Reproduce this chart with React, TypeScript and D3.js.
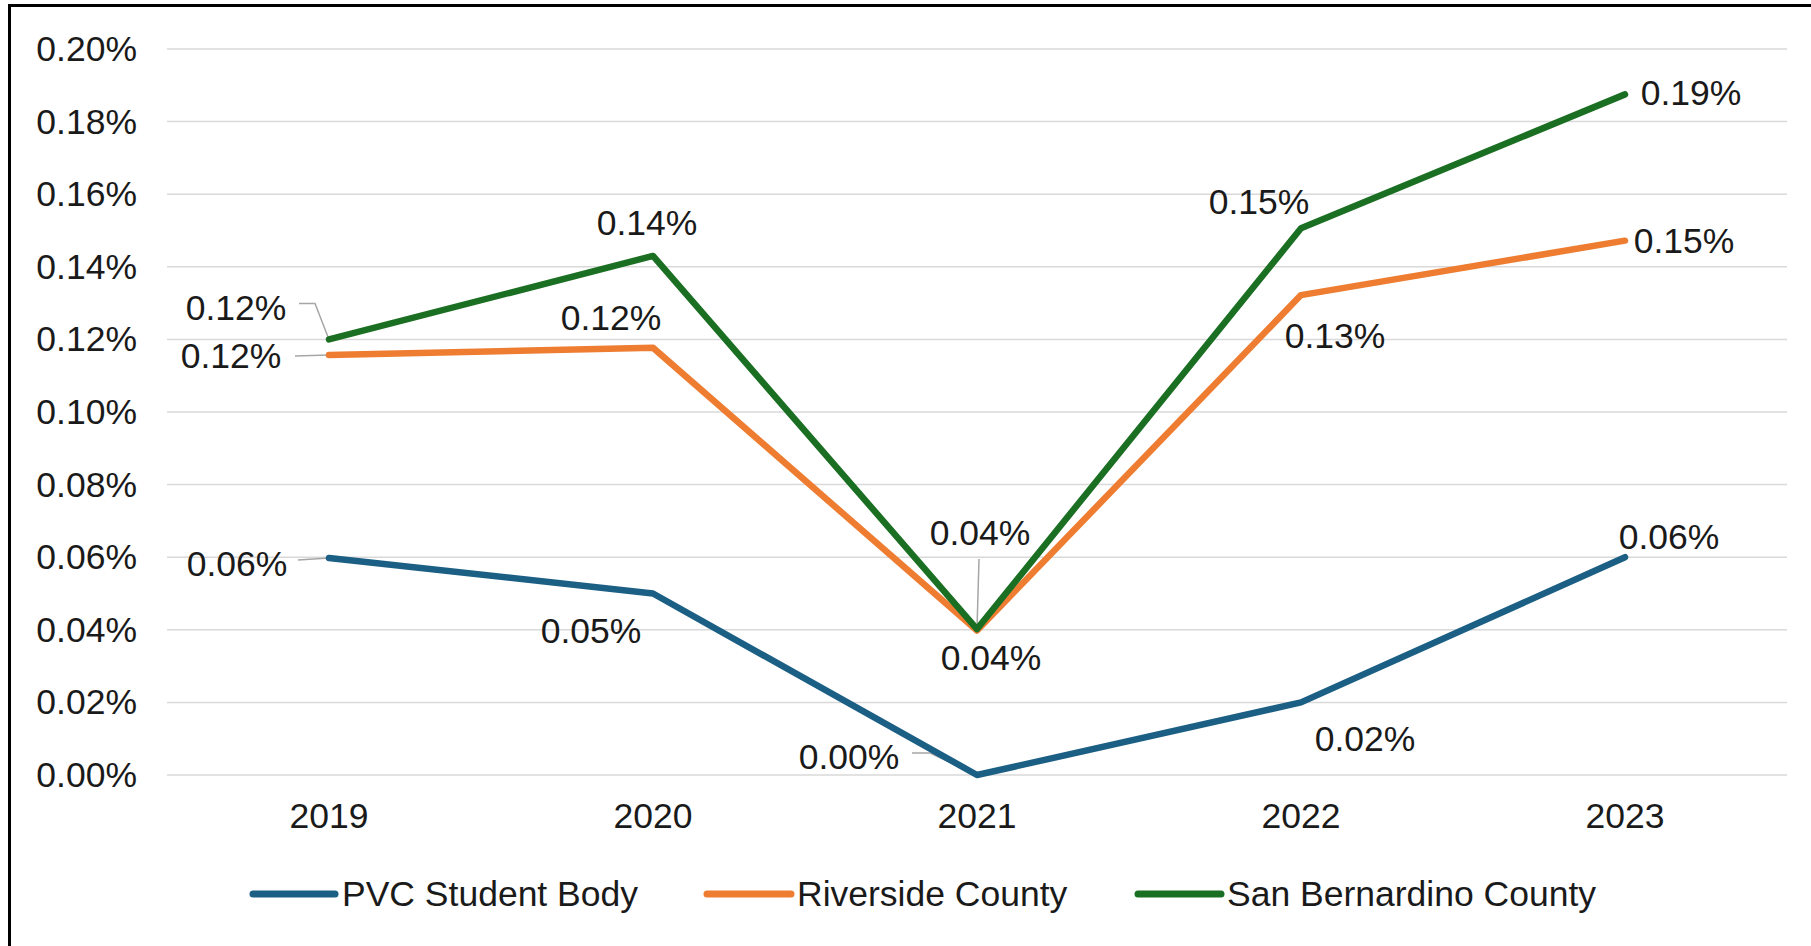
import React from "react";
import * as d3 from "d3";

const years = ["2019", "2020", "2021", "2022", "2023"];
const pvcValues = [0.0598, 0.05, 0.0, 0.02, 0.06];
const riversideValues = [0.1157, 0.1177, 0.0398, 0.1322, 0.1472];
const sanBernardinoValues = [0.12, 0.143, 0.0402, 0.1506, 0.1875];
const seriesNames = ["PVC Student Body", "Riverside County", "San Bernardino County"];
const yTicks = [0, 0.02, 0.04, 0.06, 0.08, 0.1, 0.12, 0.14, 0.16, 0.18, 0.2];

// label placement offsets (dx, dy) from each data point
const pvcLabelOffsets = [[-92, 6], [-62, 37], [-128, -18], [64, 37], [44, -20]];
const riversideLabelOffsets = [[-98, 1], [-42, -30], [14, 27], [34, 41], [59, 0]];
const sbLabelOffsets = [[-93, -31], [-6, -33], [3, -96], [-42, -26], [66, -1]];

// leader lines: [seriesIndex, pointIndex, dx start, dy start, dx knee, dy knee]
const leaders = [
  [0, 0, -31, 2, -31, 2],
  [1, 0, -34, 1, -34, 1],
  [2, 0, -30, -36, -14, -36],
  [2, 2, 2, -70, 2, -70],
  [0, 2, -65, -22, -47, -22],
];

const colors = ["#1b5f84", "#ee7d32", "#1b6f22"];

export default function App() {
  const W = 1811;
  const H = 946;
  const left = 167;
  const right = 1787;
  const top = 49;
  const bottom = 775;

  const x = d3.scaleBand<string>().domain(years).range([left, right]);
  const cx = (y: string) => (x(y) as number) + x.bandwidth() / 2;
  const y = d3.scaleLinear().domain([0, 0.2]).range([bottom, top]);
  const fmt = (v: number) => v.toFixed(2) + "%";

  const series = [
    { name: seriesNames[0], values: pvcValues, offs: pvcLabelOffsets, color: colors[0] },
    { name: seriesNames[1], values: riversideValues, offs: riversideLabelOffsets, color: colors[1] },
    { name: seriesNames[2], values: sanBernardinoValues, offs: sbLabelOffsets, color: colors[2] },
  ];

  const line = d3
    .line<number>()
    .x((_, i) => cx(years[i]))
    .y((d) => y(d));

  const font = "'Liberation Sans', Arial, sans-serif";
  const fs = 35.5;
  const textColor = "#1a1a1a";

  const legendItems = [
    { x1: 253, x2: 335, tx: 342 },
    { x1: 707, x2: 791, tx: 797 },
    { x1: 1138, x2: 1221, tx: 1227 },
  ];

  return (
    <svg
      width={W}
      height={H}
      style={{ position: "absolute", left: 0, top: 0, background: "#fff" }}
      fontFamily={font}
    >
      <rect x={0} y={0} width={W} height={H} fill="#fff" />
      <rect x={9.5} y={5.5} width={W + 20} height={H + 20} fill="none" stroke="#000" strokeWidth={3} />
      {yTicks.map((t) => (
        <g key={t}>
          <line x1={left} x2={right} y1={y(t)} y2={y(t)} stroke="#d9d9d9" strokeWidth={1.5} />
          <text
            x={137}
            y={y(t)}
            textAnchor="end"
            dominantBaseline="central"
            fontSize={fs}
            fill={textColor}
          >
            {fmt(t * 1)}
          </text>
        </g>
      ))}
      {years.map((yr) => (
        <text
          key={yr}
          x={cx(yr)}
          y={816}
          textAnchor="middle"
          dominantBaseline="central"
          fontSize={fs}
          fill={textColor}
        >
          {yr}
        </text>
      ))}
      {leaders.map((l, i) => {
        const s = series[l[0]];
        const px = cx(years[l[1]]);
        const py = y(s.values[l[1]]);
        return (
          <path
            key={"ld" + i}
            d={`M${px + l[2]},${py + l[3]}L${px + l[4]},${py + l[5]}L${px},${py}`}
            fill="none"
            stroke="#a6a6a6"
            strokeWidth={1.5}
          />
        );
      })}
      {series.map((s) => (
        <path
          key={s.name}
          d={line(s.values) as string}
          fill="none"
          stroke={s.color}
          strokeWidth={6.5}
          strokeLinejoin="round"
          strokeLinecap="round"
        />
      ))}
      {series.map((s) =>
        s.values.map((v, i) => (
          <text
            key={s.name + i}
            x={cx(years[i]) + s.offs[i][0]}
            y={y(v) + s.offs[i][1]}
            textAnchor="middle"
            dominantBaseline="central"
            fontSize={fs}
            fill={textColor}
          >
            {fmt(Math.round(v * 100) / 100)}
          </text>
        ))
      )}
      {series.map((s, i) => (
        <g key={"lg" + i}>
          <line
            x1={legendItems[i].x1}
            x2={legendItems[i].x2}
            y1={894}
            y2={894}
            stroke={s.color}
            strokeWidth={7}
            strokeLinecap="round"
          />
          <text
            x={legendItems[i].tx}
            y={894}
            dominantBaseline="central"
            fontSize={fs}
            fill={textColor}
          >
            {s.name}
          </text>
        </g>
      ))}
    </svg>
  );
}
